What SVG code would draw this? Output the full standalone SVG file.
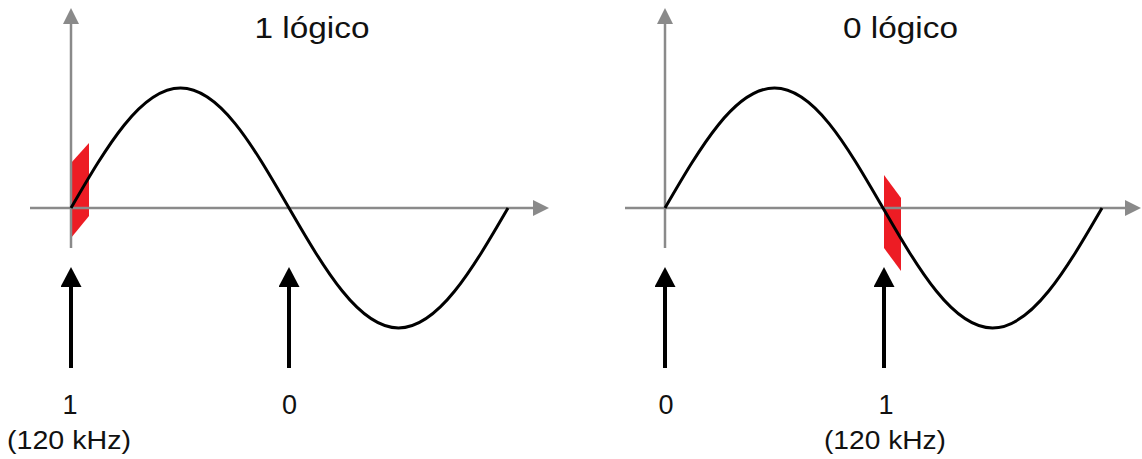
<svg xmlns="http://www.w3.org/2000/svg" width="1142" height="459" viewBox="0 0 1142 459">
<style>
.axis{stroke:#8a8a8a;stroke-width:2.5;fill:none}
.wave{stroke:#000;stroke-width:3;fill:none}
.mark{fill:#ed1c24;stroke:none}
.ptr{stroke:#000;stroke-width:4;fill:none}
text{font-family:"Liberation Sans",Arial,sans-serif;fill:#111;text-anchor:middle}
.title{font-size:29px}
.lbl{font-size:25px}
.dig{font-size:27px}
</style>
<defs>
<marker id="ga" viewBox="0 0 16 16" markerWidth="16" markerHeight="16" refX="0" refY="8" orient="auto" markerUnits="userSpaceOnUse"><path d="M0,0 L16,8 L0,16 z" fill="#8a8a8a"/></marker>
<marker id="ba" viewBox="0 0 20 21" markerWidth="20" markerHeight="21" refX="0" refY="10.5" orient="auto" markerUnits="userSpaceOnUse"><path d="M0,0 L20,10.5 L0,21 z" fill="#000"/></marker>
</defs>
<g id="left-panel">
<polygon class="mark" points="71,163 89,143 89,216 71,238"/>
<line class="axis" x1="30" y1="208" x2="533" y2="208" marker-end="url(#ga)"/>
<line class="axis" x1="71" y1="248" x2="71" y2="24" marker-end="url(#ga)"/>
<path class="wave" d="M71,208 C106.71,146.53 140.87,88 180.5,88 C220.13,88 253.29,146.53 289,208 C324.71,269.47 358.87,328 398.5,328 C438.13,328 472.29,269.47 508,208"/>
<text class="title" x="312" y="38" textLength="115" lengthAdjust="spacingAndGlyphs">1 lógico</text>
</g>
<g id="right-panel">
<polygon class="mark" points="884,175 901,198 901,271 884,248"/>
<line class="axis" x1="625" y1="208" x2="1125" y2="208" marker-end="url(#ga)"/>
<line class="axis" x1="665" y1="248" x2="665" y2="24" marker-end="url(#ga)"/>
<path class="wave" d="M665,208 C700.71,146.53 734.87,88 774.5,88 C814.13,88 847.29,146.53 883,208 C918.71,269.47 952.87,328 992.5,328 C1032.13,328 1066.29,269.47 1102,208"/>
<text class="title" x="900.5" y="38" textLength="115" lengthAdjust="spacingAndGlyphs">0 lógico</text>
</g>
<g id="connectors">
<line class="ptr" x1="71" y1="368" x2="71" y2="287" marker-end="url(#ba)"/>
<line class="ptr" x1="289" y1="368" x2="289" y2="287" marker-end="url(#ba)"/>
<line class="ptr" x1="665" y1="368" x2="665" y2="287" marker-end="url(#ba)"/>
<line class="ptr" x1="884" y1="368" x2="884" y2="287" marker-end="url(#ba)"/>
</g>
<g id="label-left-1"><text class="dig" x="70" y="414">1</text><text class="lbl" x="69" y="449" textLength="124" lengthAdjust="spacingAndGlyphs">(120 kHz)</text></g>
<g id="label-left-0"><text class="dig" x="289.5" y="414">0</text></g>
<g id="label-right-0"><text class="dig" x="666" y="414">0</text></g>
<g id="label-right-1"><text class="dig" x="886" y="414">1</text><text class="lbl" x="885" y="449" textLength="122" lengthAdjust="spacingAndGlyphs">(120 kHz)</text></g>
</svg>
